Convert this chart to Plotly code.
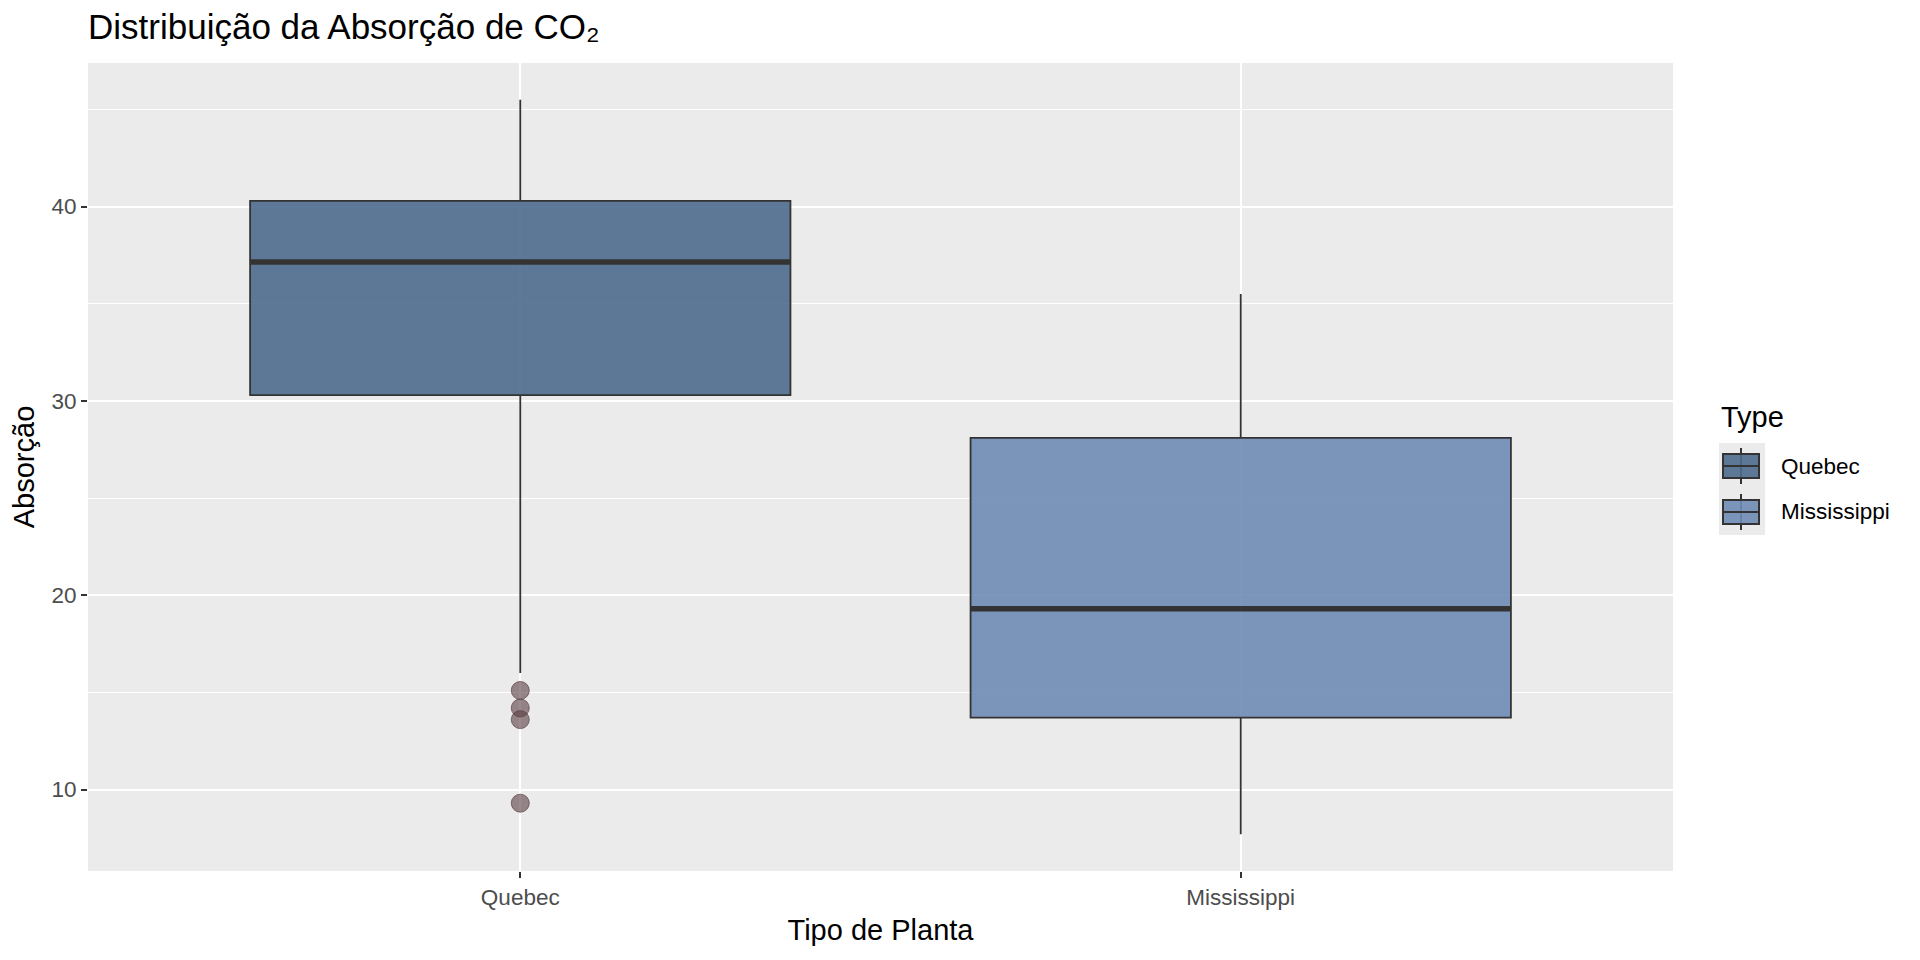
import numpy as np
import plotly.graph_objects as go

# ---- data (CO2 uptake) ----
categories = ["Quebec", "Mississippi"]
quebec_uptake = [16.0, 30.4, 34.8, 37.2, 35.3, 39.2, 39.7,
                 13.6, 27.3, 37.1, 41.8, 40.6, 41.4, 44.3,
                 16.2, 32.4, 40.3, 42.1, 42.9, 43.9, 45.5,
                 14.2, 24.1, 30.3, 34.6, 32.5, 35.4, 38.7,
                 9.3, 27.3, 35.0, 38.8, 38.6, 37.5, 42.4,
                 15.1, 21.0, 38.1, 34.0, 38.9, 39.6, 41.4]
mississippi_uptake = [10.6, 19.2, 26.2, 30.0, 30.9, 32.4, 35.5,
                      12.0, 22.0, 30.6, 31.8, 32.4, 31.1, 31.5,
                      11.3, 19.4, 25.8, 27.9, 28.5, 28.1, 27.8,
                      10.5, 14.9, 18.1, 18.9, 19.5, 22.2, 21.9,
                      7.7, 11.4, 12.3, 13.0, 12.5, 13.7, 14.4,
                      10.6, 18.0, 17.9, 17.9, 17.9, 18.9, 19.9]
series = [quebec_uptake, mississippi_uptake]
y_ticks = [10, 20, 30, 40]
legend_title = "Type"

fills = ["rgba(78,106,141,0.9)", "rgba(111,139,181,0.9)"]
FONT = "Liberation Sans, Arial, sans-serif"
BOX_W = 0.75
DARK = "#333333"

# page geometry of the panel (page px, incl. 8px body margin)
PL, PR, PT, PB = 88, 1673, 63, 871


def px(xp, yp):
    return (xp - PL) / (PR - PL), (PB - yp) / (PB - PT)


fig = go.Figure()
for i, (cat, vals) in enumerate(zip(categories, series)):
    fig.add_trace(go.Box(
        y=vals, x=[i] * len(vals), name=cat, width=BOX_W,
        fillcolor=fills[i],
        line=dict(color=DARK, width=1.8),
        whiskerwidth=0,
        boxpoints="outliers", jitter=0, pointpos=0,
        quartilemethod="linear",
        marker=dict(size=18, color="rgba(90,62,66,0.6)",
                    line=dict(color="rgba(90,62,66,0.7)", width=1),
                    outliercolor="rgba(90,62,66,0.6)"),
        hoverinfo="y", showlegend=False,
    ))
# thick median lines (ggplot style)
for i, vals in enumerate(series):
    med = float(np.median(vals))
    fig.add_trace(go.Scatter(
        x=[i - BOX_W / 2, i + BOX_W / 2], y=[med, med], mode="lines",
        line=dict(color=DARK, width=5.5), showlegend=False, hoverinfo="skip"))

all_vals = np.concatenate(series)
lo, hi = all_vals.min(), all_vals.max()
pad = (hi - lo) * 0.05

# ---- ggplot-style legend drawn in paper coordinates ----
shapes = []
annotations = []
tx, ty = px(1719, 417)
annotations.append(dict(text=legend_title, x=tx, y=ty, xref="paper", yref="paper",
                        xanchor="left", yanchor="middle", showarrow=False,
                        font=dict(size=29, family=FONT, color="black")))
key_h = 46
for i, cat in enumerate(categories):
    top = 443 + i * key_h
    cy = top + key_h / 2
    x0, y0 = px(1719, top + key_h)
    x1, y1 = px(1765, top)
    shapes.append(dict(type="rect", xref="paper", yref="paper", x0=x0, x1=x1, y0=y0, y1=y1,
                       fillcolor="#EBEBEB", line=dict(width=0), layer="below"))
    wx, wy0 = px(1741, cy + 18)
    _, wy1 = px(1741, cy - 18)
    shapes.append(dict(type="line", xref="paper", yref="paper", x0=wx, x1=wx, y0=wy0, y1=wy1,
                       line=dict(color=DARK, width=2)))
    bx0, by0 = px(1723, cy + 12)
    bx1, by1 = px(1759, cy - 12)
    shapes.append(dict(type="rect", xref="paper", yref="paper", x0=bx0, x1=bx1, y0=by0, y1=by1,
                       fillcolor=fills[i], line=dict(color=DARK, width=2)))
    _, my = px(1741, cy)
    shapes.append(dict(type="line", xref="paper", yref="paper", x0=bx0, x1=bx1, y0=my, y1=my,
                       line=dict(color=DARK, width=2)))
    lx, ly = px(1779, cy)
    annotations.append(dict(text=cat, x=lx, y=ly, xref="paper", yref="paper",
                            xanchor="left", yanchor="middle", showarrow=False,
                            font=dict(size=22.5, family=FONT, color="black")))

fig.update_layout(
    width=1920, height=960,
    paper_bgcolor="white", plot_bgcolor="#EBEBEB",
    margin=dict(l=80, r=255, t=55, b=97),
    font=dict(family=FONT, color="#000000"),
    title=dict(text="Distribuição da Absorção de CO₂", x=0, xref="paper", xanchor="left",
               y=1 - 19 / 960, yref="container", yanchor="middle",
               font=dict(size=35, family=FONT, color="black")),
    xaxis=dict(range=[-0.6, len(categories) - 0.4], tickvals=list(range(len(categories))),
               ticktext=categories, showgrid=True, gridcolor="white", gridwidth=2,
               zeroline=False, ticks="outside", ticklen=6, tickwidth=2, tickcolor=DARK,
               tickfont=dict(size=22.5, color="#4D4D4D", family=FONT),
               title=dict(text="Tipo de Planta", font=dict(size=29, family=FONT, color="black"),
                          standoff=10)),
    yaxis=dict(range=[lo - pad, hi + pad], tickvals=y_ticks, showgrid=True, gridcolor="white",
               gridwidth=2, zeroline=False, ticks="outside", ticklen=6, tickwidth=2,
               tickcolor=DARK, tickfont=dict(size=22.5, color="#4D4D4D", family=FONT),
               minor=dict(dtick=5, tick0=5, showgrid=True, gridcolor="white", gridwidth=1),
               title=dict(text="Absorção", font=dict(size=29, family=FONT, color="black"),
                          standoff=10)),
    shapes=shapes,
    annotations=annotations,
    showlegend=False,
)

fig.write_html("out.html")
